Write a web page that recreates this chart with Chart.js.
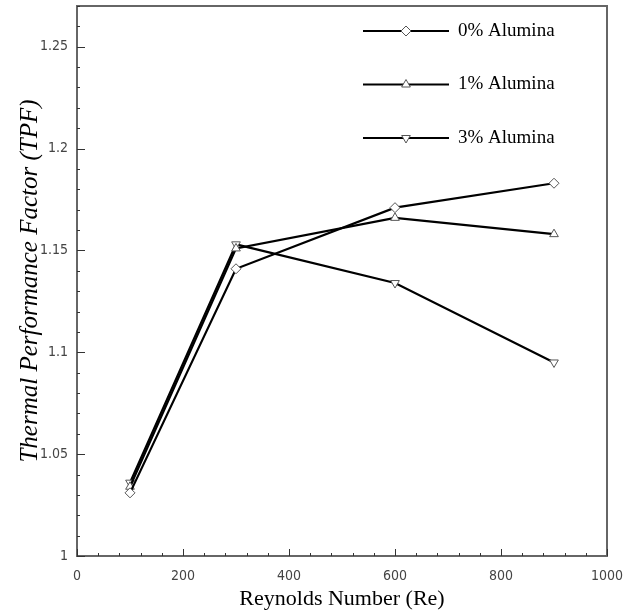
<!DOCTYPE html>
<html lang="en">
<head>
  <meta charset="UTF-8">
  <title>Thermal Performance Factor</title>
  <script src="https://cdn.jsdelivr.net/npm/chart.js"></script>
  <style>
    body { margin: 0; background: #fff; }
    #wrap { width: 638px; height: 615px; }
  </style>
</head>
<body>
<div id="wrap"><canvas id="myChart" width="638" height="615"></canvas></div>

<script>
  // Reynolds numbers and TPF values
  const reynolds = [100, 300, 600, 900];
  const tpf0 = [1.031, 1.141, 1.171, 1.183];
  const tpf1 = [1.034, 1.151, 1.166, 1.158];
  const tpf3 = [1.036, 1.153, 1.134, 1.095];
  const seriesNames = ['0% Alumina', '1% Alumina', '3% Alumina'];

  const markerStyles = [
    { style: 'rectRot', rotation: 0, radius: 5 },
    { style: 'triangle', rotation: 0, radius: 5 },
    { style: 'triangle', rotation: 180, radius: 5 }
  ];

  const tickFont = { family: '"DejaVu Sans Condensed", "Liberation Sans Narrow", sans-serif', size: 14 };

  const toPoints = vals => reynolds.map((re, i) => ({ x: re, y: vals[i] }));

  // frame + inward tick marks on left and bottom axes
  const framePlugin = {
    id: 'frame',
    afterDraw(chart) {
      const { ctx, chartArea: a, scales } = chart;
      ctx.save();
      ctx.strokeStyle = '#666';
      ctx.lineWidth = 2;
      ctx.strokeRect(a.left, a.top, a.right - a.left, a.bottom - a.top);

      ctx.strokeStyle = '#333';
      ctx.lineWidth = 1;
      scales.y.ticks.forEach(t => {
        const py = Math.round(scales.y.getPixelForValue(t.value)) + 0.5;
        const major = Math.round(t.value * 100) % 5 === 0;
        ctx.beginPath();
        ctx.moveTo(a.left, py);
        ctx.lineTo(a.left + (major ? 8 : 3), py);
        ctx.stroke();
      });
      scales.x.ticks.forEach(t => {
        const px = Math.round(scales.x.getPixelForValue(t.value)) + 0.5;
        const major = Math.round(t.value) % 200 === 0;
        ctx.beginPath();
        ctx.moveTo(px, a.bottom);
        ctx.lineTo(px, a.bottom - (major ? 7 : 3));
        ctx.stroke();
      });
      ctx.restore();
    }
  };

  // legend drawn inside the plot, line sample with marker in the middle
  const legendPlugin = {
    id: 'insideLegend',
    afterDraw(chart) {
      const { ctx, chartArea: a } = chart;
      ctx.save();
      chart.data.datasets.forEach((ds, i) => {
        const y = a.top + 25 + i * 53.5;
        const x0 = a.left + 286;
        const x1 = x0 + 86;
        ctx.strokeStyle = '#000';
        ctx.lineWidth = 2;
        ctx.beginPath();
        ctx.moveTo(x0, y);
        ctx.lineTo(x1, y);
        ctx.stroke();
        const m = markerStyles[i];
        ctx.fillStyle = '#fff';
        ctx.strokeStyle = '#555';
        ctx.lineWidth = 1;
        Chart.helpers.drawPoint(ctx, {
          pointStyle: m.style, rotation: m.rotation, radius: m.radius, borderWidth: 1
        }, (x0 + x1) / 2, y);
        ctx.fillStyle = '#000';
        ctx.font = '19px "Liberation Serif", serif';
        ctx.textBaseline = 'middle';
        ctx.fillText(ds.label, x1 + 9, y);
      });
      ctx.restore();
    }
  };

  const makeDataset = (label, vals, i) => ({
    label: label,
    data: toPoints(vals),
    borderColor: '#000',
    borderWidth: 2.2,
    fill: false,
    pointStyle: markerStyles[i].style,
    rotation: markerStyles[i].rotation,
    pointRadius: markerStyles[i].radius,
    pointBorderWidth: 1,
    pointBorderColor: '#555',
    pointBackgroundColor: '#fff'
  });

  const ctx = document.getElementById('myChart').getContext('2d');
  const myChart = new Chart(ctx, {
    type: 'line',
    data: {
      datasets: [
        makeDataset(seriesNames[0], tpf0, 0),
        makeDataset(seriesNames[1], tpf1, 1),
        makeDataset(seriesNames[2], tpf3, 2)
      ]
    },
    plugins: [framePlugin, legendPlugin],
    options: {
      responsive: false,
      animation: false,
      layout: { padding: { top: 5, right: 31, left: 0, bottom: 0 } },
      plugins: {
        legend: { display: false },
        tooltip: { enabled: false }
      },
      scales: {
        x: {
          type: 'linear',
          min: 0,
          max: 1000,
          grid: { display: false },
          border: { display: false },
          ticks: {
            stepSize: 40,
            autoSkip: false,
            maxRotation: 0,
            padding: 4,
            color: '#444',
            font: tickFont,
            callback: v => (Math.round(v) % 200 === 0 ? String(Math.round(v)) : '')
          },
          title: {
            display: true,
            text: 'Reynolds Number (Re)',
            color: '#000',
            padding: { top: 0, bottom: 3 },
            font: { family: '"Liberation Serif", serif', size: 22 }
          },
          afterFit: scale => { scale.height = 59; scale.paddingLeft = 0; scale.paddingRight = 0; }
        },
        y: {
          min: 1,
          max: 1.27,
          grid: { display: false },
          border: { display: false },
          ticks: {
            stepSize: 0.01,
            autoSkip: false,
            padding: 1,
            color: '#444',
            font: tickFont,
            callback: v => (Math.round(v * 100) % 5 === 0 ? String(+v.toFixed(2)) : '')
          },
          title: {
            display: true,
            text: 'Thermal Performance Factor (TPF)',
            color: '#000',
            padding: { top: 15, bottom: 0 },
            font: { family: '"Liberation Serif", serif', size: 25, style: 'italic' }
          },
          afterFit: scale => { scale.width = 77; scale.paddingTop = 0; scale.paddingBottom = 0; }
        }
      }
    }
  });
</script>
</body>
</html>
